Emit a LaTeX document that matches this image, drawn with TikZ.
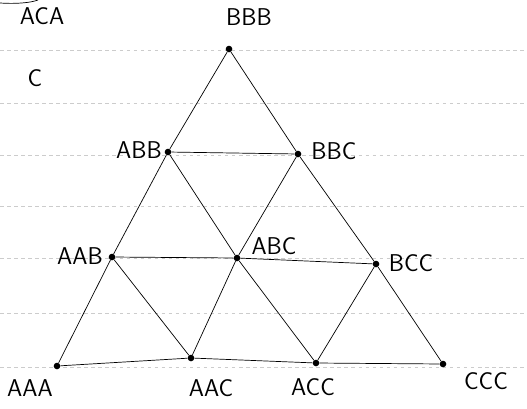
\documentclass[tikz,border=0pt]{standalone}
\usepackage{tikz}
\usetikzlibrary{calc}
\tikzset{
  vtx/.style={circle,fill=black,inner sep=2pt},
  lbl/.style={font=\sffamily\huge},
  edge/.style={black,line width=0.6pt},
  ruled/.style={gray!40,dashed,line width=0.4pt}
}

\begin{document}
\begin{tikzpicture}[x=0.03cm,y=-0.03cm]
  \useasboundingbox (0,0) rectangle (527,408);
  % ruled paper
  \foreach \yy in {50,103,155,206,258,313,367}{\draw[ruled] (0,\yy)--(527,\yy);}
  % vertices
  \node[vtx] (bbb) at (229,49) {};
  \node[vtx] (abb) at (168,152) {};
  \node[vtx] (bbc) at (298,154) {};
  \node[vtx] (aab) at (112,257) {};
  \node[vtx] (abc) at (237,258) {};
  \node[vtx] (bcc) at (376,264) {};
  \node[vtx] (aaa) at (57,366) {};
  \node[vtx] (aac) at (191,358) {};
  \node[vtx] (acc) at (316,363) {};
  \node[vtx] (ccc) at (443,364) {};
  % edges
  \draw[edge] (bbb)--(abb) (bbb)--(bbc) (abb)--(bbc);
  \draw[edge] (abb)--(aab) (abb)--(abc) (bbc)--(abc) (bbc)--(bcc);
  \draw[edge] (aab)--(abc) (abc)--(bcc);
  \draw[edge] (aab)--(aaa) (aab)--(aac) (abc)--(aac) (abc)--(acc) (bcc)--(acc) (bcc)--(ccc);
  \draw[edge] (aaa)--(aac) (aac)--(acc) (acc)--(ccc);
  % labels
  \node[lbl] (tbbb) at (249,17) {BBB};
  \node[lbl] (tabb) at (139,150) {ABB};
  \node[lbl] (tbbc) at (334,151) {BBC};
  \node[lbl] (taab) at (80,256) {AAB};
  \node[lbl] (tabc) at (274,246) {ABC};
  \node[lbl] (tbcc) at (411,263) {BCC};
  \node[lbl] (taaa) at (30,388) {AAA};
  \node[lbl] (taac) at (211,388) {AAC};
  \node[lbl] (tacc) at (313,387) {ACC};
  \node[lbl] (tccc) at (486,381) {CCC};
  \node[lbl] (taca) at (42,16) {ACA};
  \node[lbl] (tc) at (35,78) {C};
  % scribble cut off at the top
  \draw[edge] (0,3) .. controls (15,4) and (30,3) .. (38,0);
\end{tikzpicture}
\end{document}
